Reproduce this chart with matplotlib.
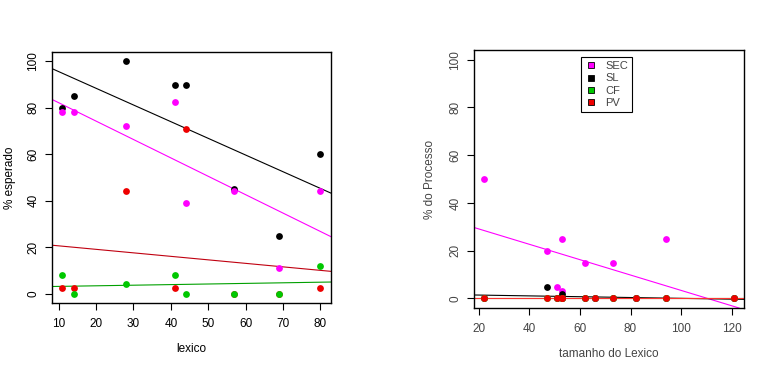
import numpy as np
import matplotlib
matplotlib.use("Agg")
import matplotlib.pyplot as plt
from matplotlib.lines import Line2D

plt.rcParams['font.family'] = ['Liberation Sans', 'DejaVu Sans']

# left panel: % esperado vs lexico
lexico = [11, 14, 28, 41, 44, 57, 69, 80]
esp_sl = [80, 85, 100, 90, 90, 45, 25, 60]
esp_sec = [78, 78, 72, 82.5, 39, 44, 11, 44]
esp_pv = [2.5, 2.5, 44, 2.5, 71, 0, 0, 2.5]
esp_cf = [8, 0, 4, 8, 0, 0, 0, 12]

# right panel: % do Processo vs tamanho do Lexico
tamanho = [22, 47, 51, 53, 53, 62, 66, 73, 82, 94, 121]
proc_sec = [50, 20, 5, 25, 3, 15, 0, 15, 0, 25, 0]
proc_sl = [0, 5, 0, 0, 2, 0, 0, 0, 0, 0, 0]
proc_cf = [0, 0, 0, 0, 0, 0, 0, 0, 0, 0, 0]
proc_pv = [0, 0, 0, 0, 0, 0, 0, 0, 0, 0, 0]

legend_labels = ['SEC', 'SL', 'CF', 'PV']

MAG = '#ff00ff'
BLK = '#000000'
GRN = '#00c800'
RED = '#ee0000'
PT = 24


def fit_line(ax, x, y, color):
    m, b = np.polyfit(x, y, 1)
    ax.axline((0, b), slope=m, color=color, lw=0.8, zorder=2)


def setup(ax, x, txtcol):
    lo, hi = min(x), max(x)
    pad = 0.04 * (hi - lo)
    ax.set_xlim(lo - pad, hi + pad)
    ax.set_ylim(-4, 104)
    ax.set_yticks([0, 20, 40, 60, 80, 100])
    ax.tick_params(axis='both', length=5, width=0.8, labelsize=8.5,
                   colors=txtcol, pad=6)
    ax.tick_params(axis='y', pad=4)
    ax.tick_params(axis='both', color='black')
    for lab in ax.get_yticklabels():
        lab.set_rotation(90)
        lab.set_va('center')
    for s in ax.spines.values():
        s.set_linewidth(1.0)


fig = plt.figure(figsize=(7.57, 3.68), dpi=100)

ax1 = fig.add_axes([0.0687, 0.1766, 0.3683, 0.6821])
ax1.scatter(lexico, esp_sl, s=PT, color=BLK, zorder=3, linewidths=0)
ax1.scatter(lexico, esp_sec, s=PT, color=MAG, zorder=3, linewidths=0)
ax1.scatter(lexico, esp_pv, s=PT, color=RED, zorder=3, linewidths=0)
ax1.scatter(lexico, esp_cf, s=PT, color=GRN, zorder=3, linewidths=0)
fit_line(ax1, lexico, esp_sl, BLK)
fit_line(ax1, lexico, esp_sec, MAG)
fit_line(ax1, lexico, esp_pv, '#c00010')
fit_line(ax1, lexico, esp_cf, '#00a000')
setup(ax1, lexico, 'black')
ax1.set_xticks([10, 20, 30, 40, 50, 60, 70, 80])
ax1.set_xlabel('lexico', fontsize=8.5, labelpad=9)
ax1.set_ylabel('% esperado', fontsize=8.5, labelpad=8)

ax2 = fig.add_axes([0.6262, 0.163, 0.3567, 0.701])
ax2.scatter(tamanho, proc_sec, s=PT, color=MAG, zorder=3, linewidths=0)
ax2.scatter(tamanho, proc_sl, s=PT, color=BLK, zorder=3, linewidths=0)
ax2.scatter(tamanho, proc_cf, s=PT, color=GRN, zorder=3, linewidths=0)
ax2.scatter(tamanho, proc_pv, s=PT, color=RED, zorder=3, linewidths=0)
fit_line(ax2, tamanho, proc_sec, MAG)
fit_line(ax2, tamanho, proc_sl, BLK)
fit_line(ax2, tamanho, proc_cf, GRN)
fit_line(ax2, tamanho, proc_pv, '#ff3030')
setup(ax2, tamanho, '#444444')
ax2.set_xticks([20, 40, 60, 80, 100, 120])
ax2.set_xlabel('tamanho do Lexico', fontsize=8.5, labelpad=9, color='#444444')
ax2.set_ylabel('% do Processo', fontsize=8.5, labelpad=10, color='#444444')

handles = [Line2D([], [], ls='none', marker='s', markersize=5,
                  markerfacecolor=c, markeredgecolor='black', markeredgewidth=0.6)
           for c in [MAG, BLK, GRN, RED]]
leg = ax2.legend(handles, legend_labels, loc='upper left',
                 bbox_to_anchor=(0.395, 0.974), fontsize=8, frameon=True,
                 fancybox=False, framealpha=1, edgecolor='black',
                 borderpad=0.4, labelspacing=0.2, handlelength=1.0,
                 handletextpad=0.8, borderaxespad=0)
leg.get_frame().set_linewidth(0.8)
for t in leg.get_texts():
    t.set_color('#444444')

fig.savefig('out.png', dpi=100)
